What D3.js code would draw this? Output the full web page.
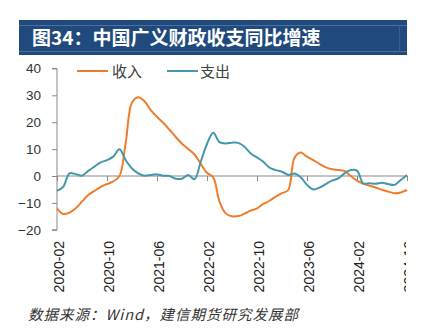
<!DOCTYPE html>
<html><head><meta charset="utf-8">
<script src="https://cdn.jsdelivr.net/npm/d3@7"></script>
<style>
html,body{margin:0;padding:0;background:#fff;}
svg{display:block;}
</style></head>
<body>
<svg id="c" width="423" height="335"></svg>
<script>
const categories = [
"2020-02","2020-03","2020-04","2020-05","2020-06","2020-07","2020-08","2020-09","2020-10","2020-11","2020-12",
"2021-01","2021-02","2021-03","2021-04","2021-05","2021-06","2021-07","2021-08","2021-09","2021-10","2021-11","2021-12",
"2022-01","2022-02","2022-03","2022-04","2022-05","2022-06","2022-07","2022-08","2022-09","2022-10","2022-11","2022-12",
"2023-01","2023-02","2023-03","2023-04","2023-05","2023-06","2023-07","2023-08","2023-09","2023-10","2023-11","2023-12",
"2024-01","2024-02","2024-03","2024-04","2024-05","2024-06","2024-07","2024-08","2024-09","2024-10"];
const income = [
-12.0,-14.1,-13.6,-12.0,-9.5,-7.1,-5.5,-4.0,-3.0,-2.0,0.0,
12.5,27.3,29.3,27.8,24.5,22.0,19.8,17.2,14.5,12.0,10.0,8.0,
4.5,1.2,-0.5,-9.5,-13.9,-15.0,-14.9,-14.0,-12.9,-12.0,-10.4,-9.2,
-7.7,-6.4,-5.2,6.8,8.7,7.2,5.9,4.5,3.2,2.5,2.2,1.9,
0.0,-1.7,-2.9,-3.6,-4.3,-5.1,-5.8,-6.4,-6.1,-5.2];
const expenditure = [
-5.5,-4.0,1.0,0.7,0.1,1.9,3.5,5.1,5.9,7.2,9.9,
5.9,2.8,1.0,0.1,0.4,0.6,0.1,0.0,-1.0,-1.0,0.4,-1.2,
5.3,11.9,16.1,12.6,12.1,12.4,12.3,10.9,8.4,6.9,5.3,3.1,
2.2,1.6,0.4,0.9,-0.5,-3.3,-5.0,-4.3,-3.0,-1.7,-0.9,1.0,
2.2,2.0,-2.7,-2.7,-2.9,-2.5,-3.0,-3.3,-1.5,0.4];
const xTickLabels = ["2020-02","2020-10","2021-06","2022-02","2022-10","2023-06","2024-02","2024-10"];
const yTicks = [-20,-10,0,10,20,30,40];
const seriesNames = ["收入","支出"];
const seriesColors = ["#EE7D2B","#4597AC"];
const titleText = "图34：中国广义财政收支同比增速";
const sourceText = "数据来源：Wind，建信期货研究发展部";

const svg = d3.select("#c");

// title bar
svg.append("rect").attr("x",19).attr("y",20).attr("width",388).attr("height",35).attr("fill","#204A7E");
svg.append("line").attr("x1",19).attr("x2",407).attr("y1",25.5).attr("y2",25.5).attr("stroke","#4E6F9A").attr("stroke-width",1);
svg.append("line").attr("x1",19).attr("x2",407).attr("y1",51.5).attr("y2",51.5).attr("stroke","#4E6F9A").attr("stroke-width",1);
svg.append("line").attr("x1",399.5).attr("x2",399.5).attr("y1",25).attr("y2",52).attr("stroke","#3A5F8E").attr("stroke-width",1);
svg.append("text").attr("x",32).attr("y",45).attr("fill","#fff")
  .attr("font-family","'Noto Sans CJK SC',sans-serif").attr("font-weight","bold").attr("font-size",19)
  .text(titleText);

const x = d3.scalePoint().domain(categories).range([57,407]);
const y = d3.scaleLinear().domain([-20,40]).range([229.8,68.4]);

// y axis
const ya = svg.append("g").attr("transform","translate(57,0)")
  .call(d3.axisLeft(y).tickValues(yTicks).tickSize(5).tickPadding(11).tickFormat(d3.format("d")));
ya.select(".domain").attr("stroke","#898989").attr("d","M-5,"+y(-20)+"H0V"+y(40)+"H-5");
ya.selectAll(".tick line").attr("stroke","#898989");
ya.selectAll(".tick text").attr("fill","#333").attr("font-family","'Liberation Sans',Arial,sans-serif").attr("font-size",13.5);

// x axis line at zero with tick marks
const xa = svg.append("g").attr("transform","translate(0,"+y(0)+")")
  .call(d3.axisBottom(x).tickValues(xTickLabels).tickSize(5).tickFormat(""));
xa.select(".domain").attr("stroke","#898989").attr("d","M57,0H407");
xa.selectAll(".tick line").attr("stroke","#898989");

// x labels at bottom, rotated
svg.append("defs").append("clipPath").attr("id","clipR").append("rect")
  .attr("x",0).attr("y",0).attr("width",406).attr("height",335);
const xl = svg.append("g").attr("clip-path","url(#clipR)").append("g").attr("transform","translate(2,241)")
  .call(d3.axisBottom(x).tickValues(xTickLabels).tickSize(0));
xl.select(".domain").remove();
xl.selectAll(".tick text").attr("fill","#222").attr("font-family","'Liberation Sans',Arial,sans-serif").attr("font-size",14)
  .attr("transform","rotate(-90)").attr("text-anchor","end").attr("x",0).attr("y",0).attr("dy","0.35em");

// lines
const line = d3.line().x((d,i)=>x(categories[i])).y(d=>y(d)).curve(d3.curveCatmullRom.alpha(0.5));
[income, expenditure].forEach((s,k)=>{
  svg.append("path").datum(s).attr("fill","none").attr("stroke",seriesColors[k])
    .attr("stroke-width",2).attr("d",line);
});

// legend
const lg = [{x:77,tx:112},{x:167,tx:200}];
seriesNames.forEach((n,k)=>{
  svg.append("line").attr("x1",lg[k].x).attr("x2",lg[k].x+31).attr("y1",71).attr("y2",71)
    .attr("stroke",seriesColors[k]).attr("stroke-width",2);
  svg.append("text").attr("x",lg[k].tx).attr("y",76.5).attr("fill","#404040")
    .attr("font-family","'Noto Sans CJK SC',sans-serif").attr("font-size",15).text(n);
});

// source
svg.append("text").attr("x",28).attr("y",320).attr("fill","#333")
  .attr("font-family","'Noto Sans CJK SC',sans-serif").attr("font-size",14.5).attr("font-style","italic")
  .attr("letter-spacing","1px").text(sourceText);
</script>
</body></html>
